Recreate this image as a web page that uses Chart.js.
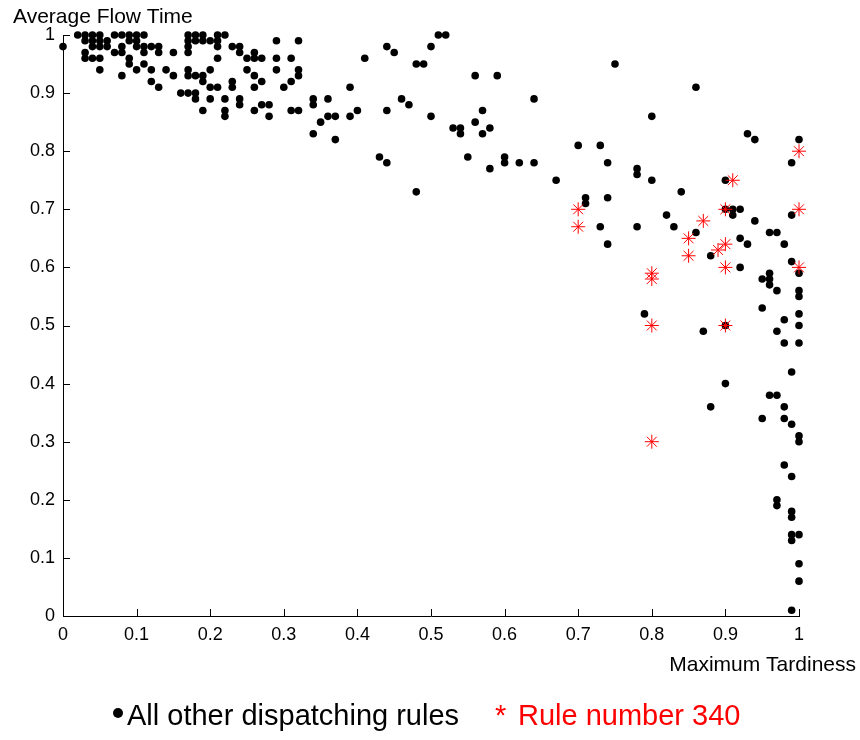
<!DOCTYPE html>
<html lang="en">
<head>
<meta charset="UTF-8">
<title>Average Flow Time vs Maximum Tardiness</title>
<script src="https://cdn.jsdelivr.net/npm/chart.js@4.4.1/dist/chart.umd.min.js"></script>
<style>
  html, body { margin:0; padding:0; background:#fff; }
  #wrap { position:relative; width:860px; height:740px; }
  #legend span { position:absolute; font-family:"Liberation Sans", Arial, sans-serif; font-size:29px; line-height:29px; white-space:nowrap; }
  #legend .dot { width:10px; height:10px; border-radius:50%; background:#000; left:113px; top:708px; }
  #legend .other { left:127px; top:701px; color:#000; }
  #legend .star { left:495px; top:701px; color:#ff0000; }
  #legend .rule { left:518px; top:701px; color:#ff0000; }
</style>
</head>
<body>
<div id="wrap">
  <canvas id="scatter" width="860" height="740"></canvas>
  <div id="legend">
    <span class="dot"></span><span class="other">All other dispatching rules</span>
    <span class="star">*</span><span class="rule">Rule number 340</span>
  </div>
</div>

<script>
// all other dispatching rules: maximum tardiness / average flow time (normalised)
const otherTardiness = [
  0.00, 0.02, 0.03, 0.04, 0.05, 0.07, 0.08, 0.09, 0.10, 0.11, 0.17,
  0.03, 0.04, 0.05, 0.06, 0.09, 0.10, 0.17,
  0.04, 0.05, 0.06, 0.08, 0.10, 0.11, 0.12, 0.13, 0.17,
  0.03, 0.07, 0.08, 0.11, 0.13, 0.15, 0.17,
  0.03, 0.04, 0.05, 0.09, 0.09, 0.11,
  0.05, 0.10, 0.12, 0.14, 0.17, 0.08, 0.15, 0.17,
  0.12, 0.13, 0.16, 0.17,
  0.18, 0.18, 0.19, 0.19, 0.20, 0.21, 0.21, 0.21, 0.22,
  0.21, 0.23, 0.24, 0.24, 0.25, 0.26, 0.26, 0.27,
  0.29, 0.32, 0.29, 0.31,
  0.18, 0.19, 0.20, 0.19, 0.20, 0.21, 0.23, 0.23, 0.25, 0.26, 0.26, 0.27, 0.29, 0.30, 0.31, 0.32, 0.32,
  0.18, 0.18, 0.20, 0.22, 0.24, 0.24, 0.19, 0.22, 0.22, 0.26, 0.27, 0.28, 0.28, 0.31, 0.32,
  0.34, 0.34, 0.36, 0.35, 0.36, 0.37, 0.34, 0.37,
  0.39, 0.39, 0.40, 0.41, 0.44, 0.45, 0.44, 0.43, 0.44, 0.46, 0.47, 0.48, 0.48, 0.49,
  0.50, 0.51, 0.52, 0.50, 0.53, 0.54, 0.54, 0.55, 0.56, 0.59, 0.57, 0.56, 0.58, 0.57,
  0.58, 0.60, 0.60, 0.62, 0.64, 0.64,
  0.67, 0.70, 0.73, 0.74, 0.75, 0.78, 0.78, 0.80, 0.80, 0.86, 0.71, 0.71, 0.74, 0.84, 0.90,
  0.73, 0.78, 0.74, 0.82, 0.83, 0.86, 0.90, 0.91, 0.92, 0.91, 0.92, 0.93, 0.88, 0.79, 0.87, 0.90,
  0.93, 0.94, 1.00, 0.99, 0.99, 0.94, 0.96, 0.97, 0.98, 0.99, 1.00, 0.92,
  0.96, 0.96, 0.95, 0.96, 0.97, 1.00, 1.00, 0.95, 0.98, 1.00, 1.00, 0.97, 0.98, 1.00,
  0.99, 0.90, 0.96, 0.97, 0.88, 0.98, 0.95, 0.98, 0.99, 1.00, 1.00,
  0.98, 0.99, 0.97, 0.97, 0.99, 0.99, 0.99, 0.99, 1.00, 1.00, 1.00, 0.99
];
const otherFlowTime = [
  0.98, 1.00, 1.00, 1.00, 1.00, 1.00, 1.00, 1.00, 1.00, 1.00, 1.00,
  0.99, 0.99, 0.99, 0.99, 0.99, 0.99, 0.99,
  0.98, 0.98, 0.98, 0.98, 0.98, 0.98, 0.98, 0.98, 0.98,
  0.97, 0.97, 0.97, 0.97, 0.97, 0.97, 0.97,
  0.96, 0.96, 0.96, 0.96, 0.95, 0.95,
  0.94, 0.94, 0.94, 0.94, 0.94, 0.93, 0.93, 0.93,
  0.92, 0.91, 0.90, 0.90,
  1.00, 0.99, 1.00, 0.99, 0.99, 1.00, 0.99, 0.98, 1.00,
  0.96, 0.98, 0.98, 0.97, 0.96, 0.97, 0.96, 0.96,
  0.99, 0.99, 0.96, 0.96,
  0.93, 0.93, 0.94, 0.92, 0.91, 0.91, 0.92, 0.91, 0.94, 0.93, 0.91, 0.92, 0.94, 0.91, 0.92, 0.94, 0.93,
  0.90, 0.89, 0.89, 0.89, 0.89, 0.88, 0.87, 0.87, 0.86, 0.87, 0.88, 0.88, 0.86, 0.87, 0.87,
  0.89, 0.88, 0.89, 0.85, 0.86, 0.86, 0.83, 0.82,
  0.91, 0.86, 0.87, 0.96, 0.98, 0.97, 0.87, 0.79, 0.78, 0.89, 0.88, 0.73, 0.95, 0.95,
  0.98, 1.00, 1.00, 0.86, 0.84, 0.84, 0.83, 0.79, 0.93, 0.93, 0.87, 0.85, 0.84, 0.83,
  0.77, 0.79, 0.78, 0.78, 0.78, 0.89,
  0.75, 0.81, 0.81, 0.78, 0.95, 0.77, 0.76, 0.75, 0.86, 0.91, 0.72, 0.71, 0.72, 0.73, 0.75,
  0.67, 0.67, 0.64, 0.69, 0.67, 0.66, 0.70, 0.70, 0.70, 0.69, 0.65, 0.64, 0.62, 0.52, 0.49, 0.50,
  0.83, 0.82, 0.82, 0.78, 0.69, 0.68, 0.66, 0.66, 0.64, 0.61, 0.59, 0.60,
  0.59, 0.58, 0.58, 0.57, 0.56, 0.56, 0.55, 0.53, 0.51, 0.52, 0.50, 0.49, 0.47, 0.47,
  0.42, 0.40, 0.38, 0.38, 0.36, 0.36, 0.34, 0.34, 0.33, 0.31, 0.30,
  0.26, 0.24, 0.20, 0.19, 0.18, 0.17, 0.14, 0.13, 0.14, 0.09, 0.06, 0.01
];

// rule number 340
const ruleTardiness = [0.70, 0.70, 0.80, 0.80, 0.80, 0.80, 0.85, 0.85, 0.87, 0.89, 0.90, 0.90, 0.90, 0.90, 0.91, 1.00, 1.00, 1.00];
const ruleFlowTime  = [0.70, 0.67, 0.59, 0.58, 0.50, 0.30, 0.65, 0.62, 0.68, 0.63, 0.64, 0.60, 0.70, 0.50, 0.75, 0.80, 0.70, 0.60];

const tickValues = [0, 0.1, 0.2, 0.3, 0.4, 0.5, 0.6, 0.7, 0.8, 0.9, 1];
const tickLabels = ['0', '0.1', '0.2', '0.3', '0.4', '0.5', '0.6', '0.7', '0.8', '0.9', '1'];

const xTitle = 'Maximum Tardiness';
const yTitle = 'Average Flow Time';

function toPoints(xs, ys) {
  return xs.map(function (x, i) { return { x: x, y: ys[i] }; });
}

const FONT = '"Liberation Sans", Arial, sans-serif';

// short tick marks pointing into the plot, plus the two axis titles
const axisDecor = {
  id: 'axisDecor',
  beforeDatasetsDraw(chart) {
    const ctx = chart.ctx;
    const xs = chart.scales.x, ys = chart.scales.y;
    const area = chart.chartArea;
    ctx.save();
    ctx.strokeStyle = '#000';
    ctx.lineWidth = 1;
    ctx.beginPath();
    tickValues.forEach(function (v) {
      const px = Math.round(xs.getPixelForValue(v)) + 0.5;
      ctx.moveTo(px, area.bottom);
      ctx.lineTo(px, area.bottom - 7);
      const py = Math.round(ys.getPixelForValue(v)) + 0.5;
      ctx.moveTo(area.left, py);
      ctx.lineTo(area.left + 7, py);
    });
    ctx.stroke();
    ctx.restore();
  },
  afterDraw(chart) {
    const ctx = chart.ctx;
    ctx.save();
    ctx.fillStyle = '#000';
    ctx.font = '21px ' + FONT;
    ctx.textBaseline = 'alphabetic';
    ctx.textAlign = 'left';
    ctx.fillText(yTitle, 13, 23);
    ctx.textAlign = 'right';
    ctx.fillText(xTitle, 856, 671);
    ctx.restore();
  }
};

const axisOptions = function (fitSize) {
  return {
    type: 'linear',
    min: 0,
    max: 1,
    grid: { display: false, drawTicks: false },
    border: { display: true, color: '#000', width: 1 },
    ticks: {
      color: '#000',
      font: { family: FONT, size: 18 },
      padding: 8,
      autoSkip: false,
      maxRotation: 0,
      callback: function (v, i) { return tickLabels[i]; }
    },
    afterBuildTicks: function (scale) {
      scale.ticks = tickValues.map(function (v) { return { value: v }; });
    },
    afterFit: fitSize
  };
};

const xAxis = axisOptions(function (scale) { scale.height = 124; });
const yAxis = axisOptions(function (scale) { scale.width = 63; });

new Chart(document.getElementById('scatter').getContext('2d'), {
  type: 'scatter',
  data: {
    datasets: [
      {
        label: 'Rule number 340',
        data: toPoints(ruleTardiness, ruleFlowTime),
        pointStyle: 'star',
        pointRadius: 7,
        pointBorderColor: '#ff0000',
        pointBackgroundColor: '#ff0000',
        pointBorderWidth: 1,
        clip: false,
        order: 0
      },
      {
        label: 'All other dispatching rules',
        data: toPoints(otherTardiness, otherFlowTime),
        pointStyle: 'circle',
        pointRadius: 3.8,
        pointBorderWidth: 0,
        pointBackgroundColor: '#000',
        clip: false,
        order: 1
      }
    ]
  },
  options: {
    responsive: false,
    animation: false,
    devicePixelRatio: 1,
    layout: { padding: { top: 35, right: 61, left: 0, bottom: 0 } },
    plugins: {
      legend: { display: false },
      tooltip: { enabled: false }
    },
    scales: { x: xAxis, y: yAxis }
  },
  plugins: [axisDecor]
});
</script>
</body>
</html>
